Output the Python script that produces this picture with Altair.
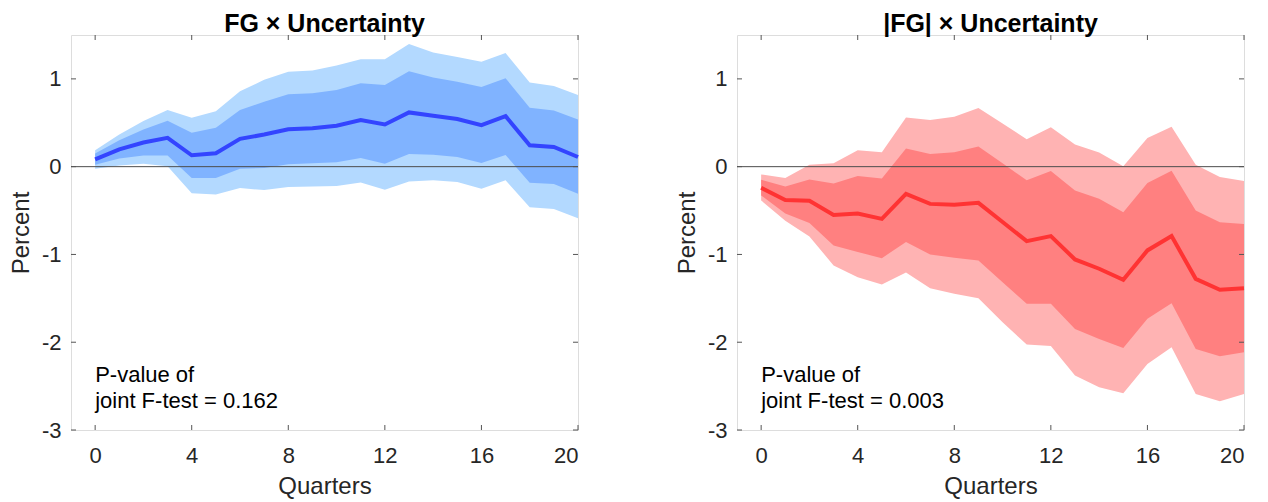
import altair as alt
import pandas as pd

quarters = list(range(21))

# Left panel: FG x Uncertainty
fg_med = [0.084, 0.198, 0.275, 0.328, 0.13, 0.153, 0.317, 0.366, 0.427, 0.439, 0.466,
          0.53, 0.48, 0.618, 0.58, 0.542, 0.473, 0.576, 0.244, 0.225, 0.11]
fg_in_hi = [0.149, 0.30, 0.424, 0.523, 0.385, 0.443, 0.645, 0.74, 0.824, 0.836, 0.874,
            0.95, 0.931, 1.088, 1.015, 0.966, 0.908, 1.008, 0.672, 0.641, 0.538]
fg_in_lo = [0.023, 0.092, 0.126, 0.126, -0.13, -0.13, -0.023, -0.015, 0.027, 0.038, 0.05,
            0.099, 0.034, 0.145, 0.137, 0.111, 0.042, 0.134, -0.183, -0.198, -0.309]
fg_out_hi = [0.187, 0.366, 0.519, 0.645, 0.557, 0.63, 0.859, 0.989, 1.08, 1.095, 1.153,
             1.225, 1.225, 1.397, 1.302, 1.248, 1.195, 1.294, 0.958, 0.92, 0.817]
fg_out_lo = [-0.023, 0.012, 0.034, 0.004, -0.302, -0.317, -0.244, -0.267, -0.233, -0.225, -0.221,
             -0.179, -0.263, -0.168, -0.156, -0.176, -0.252, -0.156, -0.462, -0.481, -0.588]

# Right panel: |FG| x Uncertainty
abs_med = [-0.24, -0.38, -0.389, -0.55, -0.534, -0.595, -0.309, -0.424, -0.435, -0.412, -0.63,
           -0.848, -0.791, -1.057, -1.163, -1.289, -0.954, -0.791, -1.278, -1.403, -1.384]
abs_in_hi = [-0.149, -0.225, -0.145, -0.191, -0.107, -0.134, 0.206, 0.145, 0.164, 0.229, 0.04,
             -0.156, -0.05, -0.271, -0.366, -0.519, -0.187, -0.046, -0.5, -0.634, -0.653]
abs_in_lo = [-0.328, -0.533, -0.643, -0.897, -0.973, -1.042, -0.859, -1.0, -1.038, -1.068, -1.316,
             -1.563, -1.563, -1.848, -1.962, -2.065, -1.734, -1.555, -2.076, -2.16, -2.114]
abs_out_hi = [-0.088, -0.13, 0.023, 0.038, 0.187, 0.164, 0.561, 0.531, 0.569, 0.668, 0.492,
              0.313, 0.45, 0.252, 0.16, 0.004, 0.328, 0.454, 0.023, -0.118, -0.164]
abs_out_lo = [-0.385, -0.617, -0.795, -1.125, -1.259, -1.342, -1.205, -1.384, -1.449, -1.498, -1.772,
              -2.027, -2.042, -2.38, -2.513, -2.582, -2.247, -2.057, -2.589, -2.673, -2.589]

x_ticks = [0, 4, 8, 12, 16, 20]
y_ticks = [-3, -2, -1, 0, 1]
x_domain = [-1, 20]
y_domain = [-3, 1.5]

titles = ["FG \u00d7 Uncertainty", "|FG| \u00d7 Uncertainty"]
pvalue_lines = [["P-value of", "joint F-test = 0.162"], ["P-value of", "joint F-test = 0.003"]]
pvalue_x = [0, 0]
pvalue_y = [-2.455, -2.75]

W, H = 507, 395
FONT = "Liberation Sans"
TXT = "#262626"
TICK = 5


def panel(med, in_lo, in_hi, out_lo, out_hi, light, dark, line_col, title, plines):
    df = pd.DataFrame({"q": quarters, "med": med, "in_lo": in_lo, "in_hi": in_hi,
                       "out_lo": out_lo, "out_hi": out_hi})
    xs = alt.Scale(domain=x_domain, nice=False, zero=False)
    ys = alt.Scale(domain=y_domain, nice=False, zero=False)
    xax = alt.Axis(values=x_ticks, ticks=False, domain=False, grid=False, labelFontSize=22,
                   labelFont=FONT, labelColor=TXT, labelPadding=15, title="Quarters",
                   titleFont=FONT, titleFontSize=24, titleFontWeight="normal", titleColor=TXT,
                   titlePadding=8)
    yax = alt.Axis(values=y_ticks, ticks=False, domain=False, grid=False, labelFontSize=22,
                   labelFont=FONT, labelColor=TXT, labelPadding=10, title="Percent",
                   titleFont=FONT, titleFontSize=24, titleFontWeight="normal", titleColor=TXT,
                   titlePadding=8, labelExpr="'' + datum.value")
    base = alt.Chart(df)
    outer = base.mark_area(color=light, opacity=1).encode(
        x=alt.X("q:Q", scale=xs, axis=xax), y=alt.Y("out_lo:Q", scale=ys, axis=yax), y2="out_hi:Q")
    inner = base.mark_area(color=dark, opacity=1).encode(
        x=alt.X("q:Q", scale=xs), y=alt.Y("in_lo:Q", scale=ys), y2="in_hi:Q")
    zero = alt.Chart(pd.DataFrame({"y": [0]})).mark_rule(color="#4d4d4d", strokeWidth=1).encode(
        y=alt.Y("y:Q", scale=ys), x=alt.value(0), x2=alt.value(W))
    line = base.mark_line(color=line_col, strokeWidth=4).encode(
        x=alt.X("q:Q", scale=xs), y=alt.Y("med:Q", scale=ys))
    tdf = pd.DataFrame({"x": pvalue_x, "y": pvalue_y, "t": plines})
    text = alt.Chart(tdf).mark_text(align="left", baseline="alphabetic", font=FONT, fontSize=22,
                                    color="#000000").encode(
        x=alt.X("x:Q", scale=xs), y=alt.Y("y:Q", scale=ys), text="t:N")
    xt = pd.DataFrame({"v": x_ticks})
    yt = pd.DataFrame({"v": y_ticks})
    tc = "#555555"
    tb = alt.Chart(xt).mark_rule(color=tc, strokeWidth=1).encode(
        x=alt.X("v:Q", scale=xs), y=alt.value(H), y2=alt.value(H - TICK))
    tt = alt.Chart(xt).mark_rule(color=tc, strokeWidth=1).encode(
        x=alt.X("v:Q", scale=xs), y=alt.value(0), y2=alt.value(TICK))
    tl = alt.Chart(yt).mark_rule(color=tc, strokeWidth=1).encode(
        y=alt.Y("v:Q", scale=ys), x=alt.value(0), x2=alt.value(TICK))
    tr = alt.Chart(yt).mark_rule(color=tc, strokeWidth=1).encode(
        y=alt.Y("v:Q", scale=ys), x=alt.value(W), x2=alt.value(W - TICK))
    return alt.layer(outer, inner, zero, line, text, tb, tt, tl, tr).properties(
        width=W, height=H,
        title=alt.TitleParams(title, fontSize=25, fontWeight="bold", font=FONT, color="#000000",
                              offset=-2))


left = panel(fg_med, fg_in_lo, fg_in_hi, fg_out_lo, fg_out_hi,
             "#b3d9ff", "#80b3ff", "#3344ff", titles[0], pvalue_lines[0])
right = panel(abs_med, abs_in_lo, abs_in_hi, abs_out_lo, abs_out_hi,
              "#ffb3b3", "#ff8080", "#ff3333", titles[1], pvalue_lines[1])

chart = alt.hconcat(left, right, spacing=87).properties(
    padding={"left": 0, "top": 3, "right": 0, "bottom": 0}
).configure_view(stroke="#666666", strokeWidth=1).configure(background="white")

chart.save("out.html", embed_options={"renderer": "svg", "actions": False})
